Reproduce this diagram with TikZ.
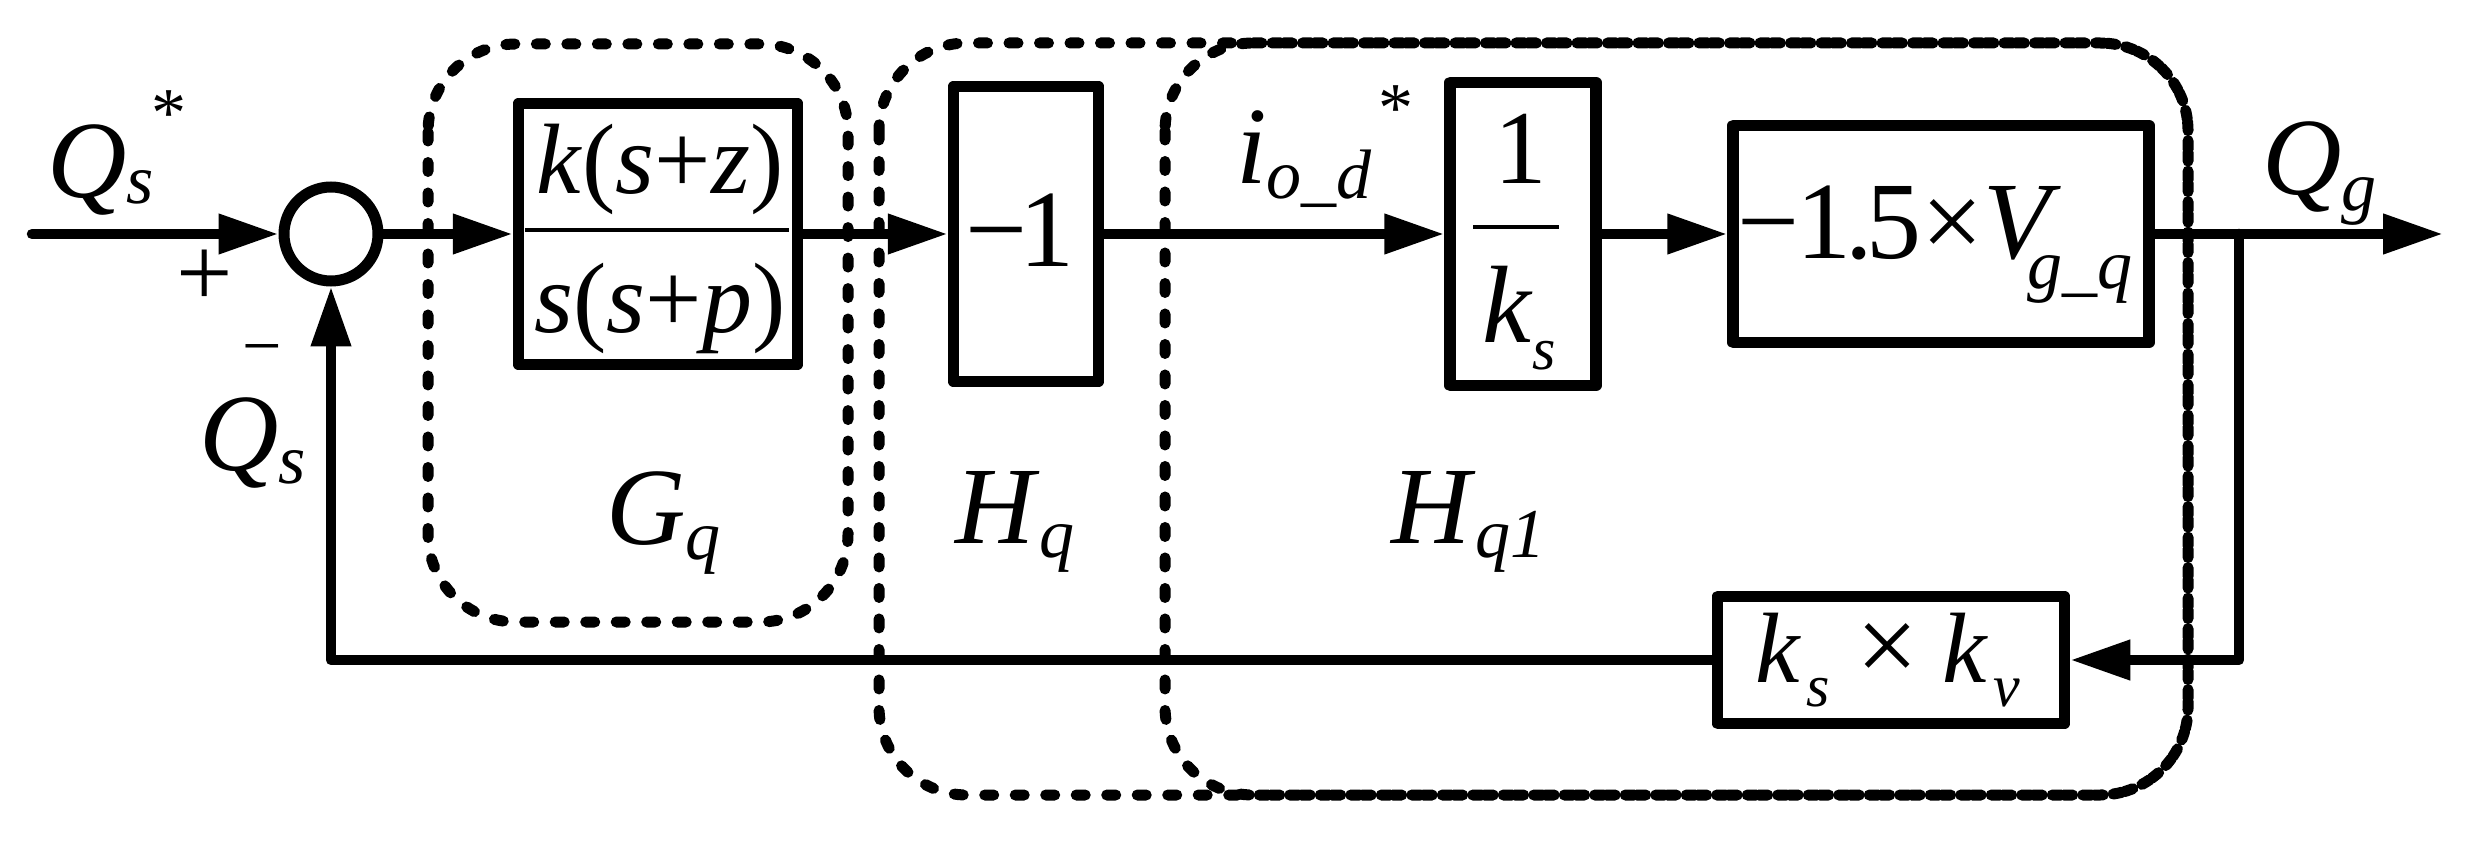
\documentclass[tikz,border=0pt]{standalone}
\usepackage{fontspec}
\setmainfont{Liberation Serif}
\usetikzlibrary{arrows.meta}
\newcommand{\fs}[1]{\fontsize{#1}{#1}\selectfont}
\newcommand{\lowsub}[3]{\raisebox{#1}{\fs{#2}\itshape #3}}
\begin{document}
\begin{tikzpicture}[x=0.1pt,y=-0.1pt,
  blk/.style={draw,line width=1.15pt,inner sep=0pt,rectangle,line join=round},
  lbl/.style={inner sep=0pt,outer sep=0pt},
  arr/.style={line width=1.05pt,line cap=round,line join=round,-{Triangle[length=6pt,width=3.8pt]}},
  grp/.style={line width=1.1pt,dash pattern=on 0.9pt off 2.15pt,line cap=round,rounded corners=8.8pt},
  fbar/.style={line width=0.45pt}]
\useasboundingbox (0,0) rectangle (2468,841);

% grouping boxes
\draw[grp] (428,44) rectangle (848,622);
\draw[grp] (879,43) rectangle (2188,795);
\draw[grp] (1165,43) rectangle (2188,795);

% blocks
\node[draw,circle,line width=1.1pt,minimum size=9.4pt,inner sep=0pt] (sum) at (331,234) {};
\node[blk,minimum width=27.9pt,minimum height=26.1pt] (G) at (658,234) {};
\node[blk,minimum width=14.5pt,minimum height=29.5pt] (M1) at (1026,234) {};
\node[blk,minimum width=14.6pt,minimum height=30.3pt] (K) at (1523,234) {};
\node[blk,minimum width=41.6pt,minimum height=21.7pt] (V) at (1941,234) {};
\node[blk,minimum width=34.7pt,minimum height=12.7pt] (fb) at (1891,660) {};

% block contents
\node[lbl,anchor=base,font=\fs{10}] (Gnum) at (660,194) {\textit{k}(\textit{s}+\textit{z})};
\node[lbl,anchor=base,font=\fs{10}] (Gden) at (660,333) {\textit{s}(\textit{s}+\textit{p})};
\draw[fbar] ([shift={(-133,-4)}]G.center) -- ([shift={(131,-4)}]G.center);
\node[lbl,anchor=base,font=\fs{11}] (M1t) at (1020,267) {−\kern-0.08em1};
\node[lbl,anchor=base,font=\fs{10.5}] (Kn) at (1521,184) {1};
\draw[fbar] ([shift={(-50,-7)}]K.center) -- ([shift={(36,-7)}]K.center);
\node[lbl,anchor=base west,font=\fs{11}] (Kd) at (1482,342) {\textit{k}\lowsub{-2.7pt}{6}{s}};
\node[lbl,anchor=base west,font=\fs{11}] (Vt) at (1737,259) {−\kern-0.02em1\kern-0.06em.\kern-0.06em5×\textit{V}\kern-0.3em\lowsub{-3pt}{7}{g\_q}};
\node[lbl,anchor=base west,font=\fs{10}] (fbt) at (1755,682) {\textit{k}\kern0.6pt\lowsub{-2.4pt}{6}{s}\kern2.6pt{\fs{11}×}\kern2.4pt\textit{k}\kern0.5pt\lowsub{-2.4pt}{6}{v}};

% signal labels
\node[lbl,anchor=base west,font=\fs{11}] (qsin) at (47,198) {\textit{Q}\lowsub{-0.6pt}{7}{s}\kern-0.2pt\raisebox{6.1pt}{\fs{7}*}};
\node[lbl,font=\fs{10}] (plus) at (205,278) {+};
\node[lbl,anchor=base,font=\fs{7}] (minus) at (262,369) {−};
\node[lbl,anchor=base west,font=\fs{11}] (qsfb) at (199,471) {\textit{Q}\lowsub{-1.3pt}{7}{s}};
\node[lbl,anchor=base west,font=\fs{11}] (iod) at (1236,184) {\textit{i}\lowsub{-1.4pt}{7}{o\_d}\kern0.7pt\raisebox{5.2pt}{\fs{7}*}};
\node[lbl,anchor=base west,font=\fs{11}] (qg) at (2262,195) {\textit{Q}\lowsub{-1.6pt}{7}{g}};
\node[lbl,anchor=base west,font=\fs{11}] (gq) at (606,545) {\textit{G}\lowsub{-1.4pt}{7}{q}};
\node[lbl,anchor=base west,font=\fs{11}] (hq) at (955,543) {\textit{H}\lowsub{-1.4pt}{7}{q}};
\node[lbl,anchor=base west,font=\fs{11}] (hq1) at (1391,543) {\textit{H}\lowsub{-1.4pt}{7}{q1}};

% connectors
\coordinate (in) at (32,234);
\coordinate (out) at (2443,234);
\coordinate (br) at (2239,234);
\draw[arr] (in) -- (sum.west);
\draw[arr] (sum.east) -- (G.west);
\draw[arr] (G.east) -- (M1.west);
\draw[arr] (M1.east) -- (K.west);
\draw[arr] (K.east) -- (V.west);
\draw[arr] (V.east) -- (out);
\draw[arr] (br) |- (fb.east);
\draw[arr] (fb.west) -| (sum.south);
\end{tikzpicture}
\end{document}
